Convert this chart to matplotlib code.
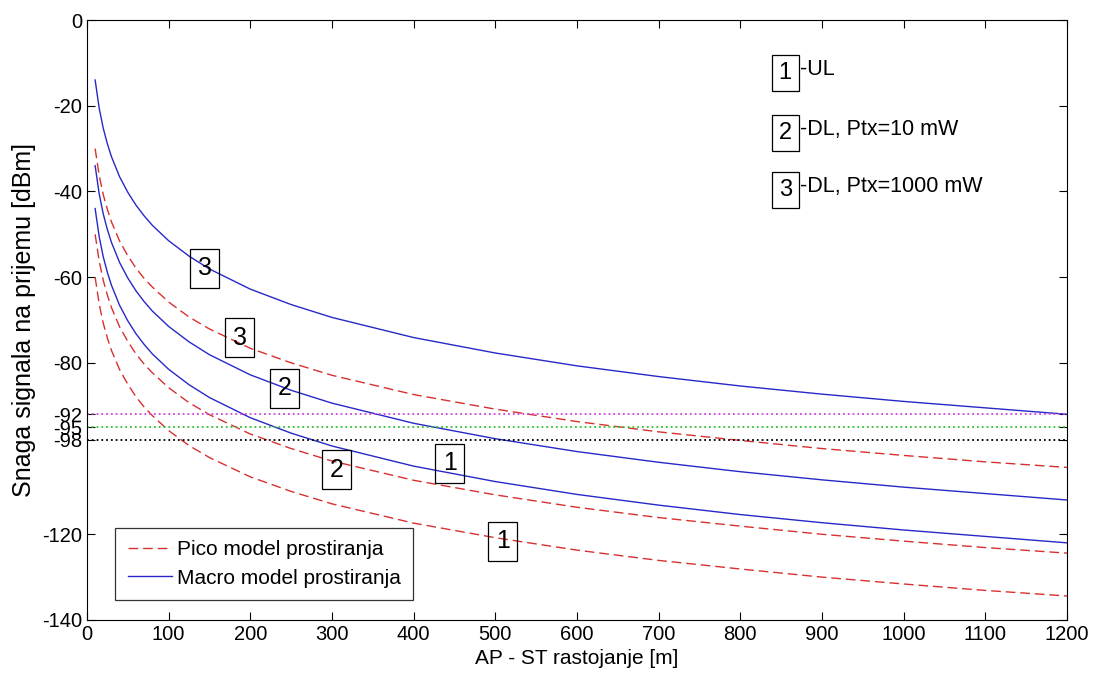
import matplotlib.pyplot as plt

plt.rcParams['font.family'] = ['Liberation Sans', 'DejaVu Sans']
plt.rcParams['axes.unicode_minus'] = False

# rastojanje AP - ST [m]
d = [10, 15, 20, 25, 30, 40, 50, 60, 70, 80, 100, 125, 150, 200, 250, 300,
     400, 500, 600, 700, 800, 900, 1000, 1100, 1200]

# Macro model prostiranja [dBm]
macro_dl1000 = [-14, -20.6, -25.3, -28.9, -31.9, -36.6, -40.2, -43.2, -45.7, -47.9,
                -51.5, -55.1, -58.1, -62.8, -66.4, -69.4, -74.1, -77.7, -80.7,
                -83.2, -85.4, -87.3, -89.0, -90.5, -92.0]
macro_dl10 = [-34, -40.6, -45.3, -48.9, -51.9, -56.6, -60.2, -63.2, -65.7, -67.9,
              -71.5, -75.1, -78.1, -82.8, -86.4, -89.4, -94.1, -97.7, -100.7,
              -103.2, -105.4, -107.3, -109.0, -110.5, -112.0]
macro_ul = [-44, -50.6, -55.3, -58.9, -61.9, -66.6, -70.2, -73.2, -75.7, -77.9,
            -81.5, -85.1, -88.1, -92.8, -96.4, -99.4, -104.1, -107.7, -110.7,
            -113.2, -115.4, -117.3, -119.0, -120.5, -122.0]

# Pico model prostiranja [dBm]
pico_dl1000 = [-30, -36.3, -40.8, -44.2, -47.1, -51.6, -55.0, -57.9, -60.3, -62.3,
               -65.8, -69.3, -72.1, -76.6, -80.0, -82.9, -87.4, -90.8, -93.7,
               -96.1, -98.1, -100.0, -101.6, -103.1, -104.4]
pico_dl10 = [-50, -56.3, -60.8, -64.2, -67.1, -71.6, -75.0, -77.9, -80.3, -82.3,
             -85.8, -89.3, -92.1, -96.6, -100.0, -102.9, -107.4, -110.8, -113.7,
             -116.1, -118.1, -120.0, -121.6, -123.1, -124.4]
pico_ul = [-60, -66.3, -70.8, -74.2, -77.1, -81.6, -85.0, -87.9, -90.3, -92.3,
           -95.8, -99.3, -102.1, -106.6, -110.0, -112.9, -117.4, -120.8, -123.7,
           -126.1, -128.1, -130.0, -131.6, -133.1, -134.4]

# pragovi osjetljivosti [dBm]
thresholds = [-92, -95, -98]
threshold_colors = ['#d040e0', '#30c030', 'black']

# oznake krivih: (x, y, tekst)
curve_labels = [(144, -57.9, '3'), (187, -74.2, '3'), (242, -85.9, '2'),
                (306, -105.0, '2'), (444, -103.4, '1'), (509, -121.6, '1')]

legend_keys = ['1', '2', '3']
legend_texts = ['-UL', '-DL, Ptx=10 mW', '-DL, Ptx=1000 mW']
legend_y = [-12.4, -26.4, -39.7]

yticks = [-140, -120, -100, -80, -60, -40, -20, 0] + thresholds
yticks = [t for t in yticks if t != -100]

fig = plt.figure(figsize=(10.98, 6.85), dpi=100)
ax = fig.add_axes([0.0792, 0.0949, 0.8926, 0.8759])

blue = '#2828c8'
red = '#d83030'
dash = (7, 3.5)

ax.plot(d, pico_dl1000, '--', dashes=dash, color=red, lw=1.0,
        label='Pico model prostiranja')
ax.plot(d, macro_dl1000, '-', color=blue, lw=1.0, label='Macro model prostiranja')
ax.plot(d, pico_dl10, '--', dashes=dash, color=red, lw=1.0)
ax.plot(d, pico_ul, '--', dashes=dash, color=red, lw=1.0)
ax.plot(d, macro_dl10, '-', color=blue, lw=1.0)
ax.plot(d, macro_ul, '-', color=blue, lw=1.0)

for t, c in zip(thresholds, threshold_colors):
    ax.axhline(t, color=c, ls=':', lw=1.3)

box = dict(boxstyle='square,pad=0.3', fc='none', ec='black', lw=0.9)
for x, y, s in curve_labels:
    ax.text(x, y, s, fontsize=18, ha='center', va='center', bbox=box)

for key, txt, y in zip(legend_keys, legend_texts, legend_y):
    ax.text(855, y, key, fontsize=17, ha='center', va='center', bbox=box)
    ax.text(873, y + 0.8, txt, fontsize=15.5, ha='left', va='center')

ax.set_xlim(0, 1200)
ax.set_ylim(-140, 0)
ax.set_xticks(range(0, 1201, 100))
ax.set_yticks(yticks)
ax.tick_params(direction='in', top=True, right=True, labelsize=14.5, length=6)
ax.set_xlabel('AP - ST rastojanje [m]', fontsize=15)
ax.set_ylabel('Snaga signala na prijemu [dBm]', fontsize=18, labelpad=4)

leg = ax.legend(loc='lower left', bbox_to_anchor=(0.029, 0.033), fontsize=15,
                frameon=True, fancybox=False, edgecolor='black',
                handlelength=2.1, handletextpad=0.25, borderpad=0.6,
                labelspacing=0.45, borderaxespad=0)
leg.get_frame().set_linewidth(0.9)

fig.savefig('out.png', dpi=100)
